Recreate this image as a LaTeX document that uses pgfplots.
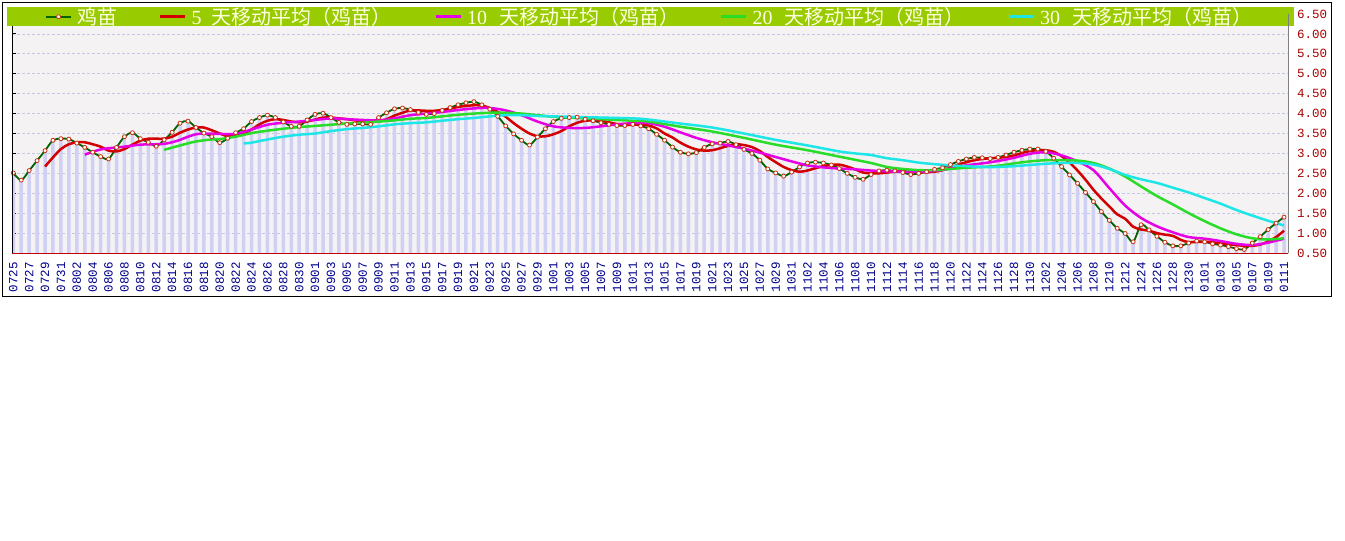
\documentclass[border=0pt]{standalone}
\usepackage{fontspec}
\setmainfont{Liberation Serif}
\newfontfamily\cjk{Noto Sans CJK SC}
\newfontfamily\monofont{Liberation Mono}
\usepackage{pgfplots}
\usepackage{pgfplotstable}
\pgfplotsset{compat=1.18}

\definecolor{paper}{RGB}{244,242,242}
\definecolor{legbar}{RGB}{153,204,0}
\definecolor{legtext}{RGB}{255,255,225}
\definecolor{barcol}{RGB}{208,208,245}
\definecolor{gridcol}{RGB}{198,198,230}
\definecolor{axred}{RGB}{190,0,0}
\definecolor{labred}{RGB}{170,0,0}
\definecolor{labblue}{RGB}{0,0,140}
\definecolor{mainline}{RGB}{0,100,0}
\definecolor{markedge}{RGB}{200,50,20}
\definecolor{ma5}{RGB}{210,0,0}
\definecolor{ma10}{RGB}{230,0,230}
\definecolor{ma20}{RGB}{40,220,40}
\definecolor{ma30}{RGB}{30,230,230}

\pgfplotsset{
  lineleg/.style={legend image code/.code={\draw[##1] (0bp,0bp) -- (25bp,0bp);}},
  markleg/.style={legend image code/.code={\draw[##1, mark indices={2}] plot coordinates {(0bp,0bp) (12.5bp,0bp) (25bp,0bp)};}},
}

% daily price, index 0 = 0725
\pgfplotstableread{
i v
0 2.51
1 2.33
2 2.57
3 2.82
4 3.07
5 3.33
6 3.37
7 3.36
8 3.26
9 3.15
10 3.03
11 2.92
12 2.86
13 3.15
14 3.42
15 3.52
16 3.37
17 3.28
18 3.18
19 3.34
20 3.53
21 3.76
22 3.81
23 3.65
24 3.51
25 3.42
26 3.27
27 3.38
28 3.52
29 3.62
30 3.80
31 3.90
32 3.96
33 3.90
34 3.79
35 3.68
36 3.68
37 3.84
38 3.98
39 4.01
40 3.90
41 3.78
42 3.73
43 3.74
44 3.74
45 3.73
46 3.90
47 4.02
48 4.12
49 4.14
50 4.10
51 4.03
52 3.98
53 4.00
54 4.08
55 4.15
56 4.22
57 4.27
58 4.30
59 4.22
60 4.11
61 3.93
62 3.69
63 3.49
64 3.33
65 3.21
66 3.41
67 3.62
68 3.80
69 3.88
70 3.90
71 3.91
72 3.86
73 3.82
74 3.77
75 3.73
76 3.70
77 3.70
78 3.73
79 3.69
80 3.62
81 3.48
82 3.33
83 3.16
84 3.03
85 2.99
86 3.02
87 3.15
88 3.24
89 3.26
90 3.30
91 3.22
92 3.10
93 3.00
94 2.83
95 2.61
96 2.51
97 2.43
98 2.53
99 2.66
100 2.76
101 2.78
102 2.76
103 2.71
104 2.62
105 2.50
106 2.40
107 2.35
108 2.47
109 2.56
110 2.58
111 2.56
112 2.52
113 2.47
114 2.50
115 2.54
116 2.60
117 2.64
118 2.72
119 2.80
120 2.86
121 2.90
122 2.89
123 2.87
124 2.90
125 2.96
126 3.03
127 3.08
128 3.11
129 3.11
130 3.05
131 2.88
132 2.67
133 2.46
134 2.25
135 2.02
136 1.79
137 1.54
138 1.32
139 1.12
140 0.99
141 0.78
142 1.21
143 1.08
144 0.92
145 0.77
146 0.68
147 0.68
148 0.75
149 0.80
150 0.78
151 0.73
152 0.70
153 0.66
154 0.61
155 0.59
156 0.75
157 0.91
158 1.09
159 1.25
160 1.40
}\price

\pgfplotstableread{
i v
4 2.67
5 2.90
6 3.11
7 3.23
8 3.28
9 3.28
10 3.23
11 3.17
12 3.07
13 3.05
14 3.11
15 3.22
16 3.32
17 3.37
18 3.37
19 3.37
20 3.42
21 3.52
22 3.60
23 3.65
24 3.65
25 3.58
26 3.50
27 3.43
28 3.43
29 3.50
30 3.60
31 3.73
32 3.82
33 3.86
34 3.84
35 3.80
36 3.78
37 3.80
38 3.85
39 3.90
40 3.90
41 3.88
42 3.86
43 3.83
44 3.81
45 3.80
46 3.80
47 3.86
48 3.95
49 4.02
50 4.08
51 4.08
52 4.07
53 4.07
54 4.09
55 4.12
56 4.17
57 4.19
58 4.21
59 4.20
60 4.14
61 4.04
62 3.92
63 3.76
64 3.62
65 3.50
66 3.43
67 3.43
68 3.48
69 3.56
70 3.68
71 3.77
72 3.82
73 3.83
74 3.82
75 3.78
76 3.74
77 3.72
78 3.72
79 3.72
80 3.70
81 3.63
82 3.50
83 3.40
84 3.27
85 3.17
86 3.10
87 3.07
88 3.08
89 3.13
90 3.19
91 3.23
92 3.21
93 3.16
94 3.06
95 2.91
96 2.78
97 2.66
98 2.58
99 2.54
100 2.57
101 2.63
102 2.68
103 2.71
104 2.72
105 2.67
106 2.60
107 2.52
108 2.50
109 2.50
110 2.52
111 2.54
112 2.55
113 2.54
114 2.53
115 2.53
116 2.54
117 2.58
118 2.64
119 2.72
120 2.78
121 2.83
122 2.86
123 2.88
124 2.89
125 2.91
126 2.95
127 3.01
128 3.06
129 3.08
130 3.08
131 3.04
132 2.93
133 2.77
134 2.57
135 2.34
136 2.09
137 1.87
138 1.67
139 1.47
140 1.36
141 1.16
142 1.09
143 1.06
144 1.00
145 0.96
146 0.93
147 0.83
148 0.77
149 0.78
150 0.78
151 0.77
152 0.74
153 0.72
154 0.70
155 0.68
156 0.68
157 0.71
158 0.79
159 0.90
160 1.06
}\maA

\pgfplotstableread{
i v
9 2.97
10 3.04
11 3.10
12 3.13
14 3.17
16 3.22
18 3.23
19 3.24
20 3.28
21 3.34
22 3.42
23 3.48
24 3.50
26 3.49
28 3.49
30 3.60
32 3.72
34 3.77
36 3.80
38 3.84
40 3.88
42 3.86
44 3.84
46 3.83
48 3.88
50 3.96
52 4.00
54 4.04
56 4.09
58 4.13
60 4.14
62 4.08
64 3.96
66 3.80
68 3.68
70 3.64
72 3.64
74 3.68
76 3.73
78 3.76
80 3.76
82 3.67
84 3.53
86 3.39
88 3.28
90 3.20
92 3.12
94 3.02
96 2.91
98 2.80
100 2.70
102 2.65
104 2.62
106 2.60
108 2.57
110 2.55
112 2.54
114 2.54
116 2.56
118 2.62
120 2.70
122 2.75
124 2.81
126 2.89
128 2.99
130 3.03
132 2.95
134 2.80
136 2.58
138 2.13
140 1.69
142 1.38
144 1.17
146 1.02
148 0.90
150 0.86
152 0.80
154 0.73
156 0.70
158 0.76
160 0.86
}\maB

\pgfplotstableread{
i v
19 3.09
21 3.20
23 3.30
25 3.35
26 3.36
28 3.42
30 3.51
32 3.57
34 3.62
36 3.66
38 3.69
40 3.72
42 3.75
44 3.77
46 3.80
48 3.83
50 3.87
52 3.89
54 3.93
56 3.97
58 4.00
60 4.02
62 4.02
64 4.00
66 3.96
68 3.92
70 3.90
72 3.88
74 3.86
76 3.84
78 3.82
80 3.80
84 3.67
88 3.55
92 3.39
96 3.22
100 3.08
104 2.92
106 2.84
108 2.76
110 2.66
112 2.61
114 2.58
116 2.58
118 2.61
120 2.64
122 2.66
124 2.69
126 2.75
128 2.80
130 2.83
132 2.83
134 2.82
136 2.76
138 2.62
140 2.42
142 2.17
144 1.93
146 1.72
148 1.50
150 1.30
152 1.12
154 0.97
156 0.87
158 0.84
160 0.87
}\maC

\pgfplotstableread{
i v
29 3.25
30 3.27
32 3.35
34 3.42
36 3.47
38 3.50
40 3.56
42 3.61
44 3.64
46 3.68
48 3.73
50 3.76
52 3.78
54 3.82
56 3.86
58 3.89
60 3.93
62 3.96
64 3.96
66 3.94
70 3.92
74 3.90
78 3.88
80 3.85
84 3.75
88 3.65
92 3.50
96 3.34
100 3.20
104 3.05
106 3.00
108 2.96
110 2.88
112 2.83
114 2.77
116 2.73
118 2.70
120 2.68
122 2.66
124 2.66
126 2.68
128 2.71
130 2.74
132 2.76
134 2.76
136 2.72
138 2.61
140 2.46
142 2.35
144 2.26
146 2.14
148 2.02
150 1.88
152 1.74
154 1.58
156 1.44
158 1.31
160 1.19
}\maD

\begin{document}
\begin{tikzpicture}
\path[use as bounding box, fill=white] (0,0) rectangle (1345bp,-541bp);
\begin{axis}[
  at={(12bp,-253bp)}, anchor=south west,
  scale only axis, width=1276bp, height=239bp,
  xmin=-0.16, xmax=160.5, ymin=0.5, ymax=6.5,
  axis line style={draw=none},
  axis background/.style={fill=paper},
  xtick={0,2,...,160},
  xticklabels={0725,0727,0729,0731,0802,0804,0806,0808,0810,0812,0814,0816,0818,0820,0822,0824,0826,0828,0830,0901,0903,0905,0907,0909,0911,0913,0915,0917,0919,0921,0923,0925,0927,0929,1001,1003,1005,1007,1009,1011,1013,1015,1017,1019,1021,1023,1025,1027,1029,1031,1102,1104,1106,1108,1110,1112,1114,1116,1118,1120,1122,1124,1126,1128,1130,1202,1204,1206,1208,1210,1212,1224,1226,1228,1230,0101,0103,0105,0107,0109,0111},
  minor x tick num=1,
  ytick={0.5,1,1.5,2,2.5,3,3.5,4,4.5,5,5.5,6,6.5},
  yticklabels={0.50,1.00,1.50,2.00,2.50,3.00,3.50,4.00,4.50,5.00,5.50,6.00,6.50},
  xtick pos=left, ytick pos=left,
  yticklabel pos=right,
  tick align=inside,
  major tick length=4bp, minor tick length=4bp,
  major x tick style={draw=axred, line width=1bp},
  minor x tick style={draw=axred, line width=1bp},
  major y tick style={draw=black, line width=1bp},
  xticklabel style={yshift=-9bp, rotate=90, anchor=east, inner sep=0pt,
    text=labblue, font=\monofont\fontsize{12.5bp}{12.5bp}\selectfont},
  yticklabel style={anchor=west, inner sep=0pt, xshift=9bp,
    text=labred, font=\monofont\fontsize{12.5bp}{12.5bp}\selectfont},
  ymajorgrids,
  major grid style={draw=gridcol, dash pattern=on 3bp off 2bp, line width=0.8bp},
  legend columns=5,
  legend style={at={(-0.0039,1.0293)}, anchor=north west,
    fill=legbar, draw=none, inner xsep=38bp, inner ysep=0pt,
    nodes={inner sep=0pt, text height=17bp, text depth=2bp, text=legtext,
      font=\fontsize{20bp}{20bp}\selectfont},
    cells={anchor=west}},
  lineleg,
]
\addplot[ybar, bar width=3.5bp, fill=barcol, draw=none, forget plot]
  table[x=i, y=v]{\price};
\addplot[mainline, line width=1.8bp, smooth, mark=*, mark size=2bp,
  mark options={fill=white, draw=markedge, line width=0.8bp}, markleg]
  table[x=i, y=v]{\price};
\addlegendentry{\makebox[87bp][l]{\hspace{5bp}\cjk 鸡苗}}
\addplot[ma5, line width=2.5bp, smooth, mark=none] table[x=i, y=v]{\maA};
\addlegendentry{\makebox[248bp][l]{\hspace{5bp}\makebox[20bp][l]{5}\cjk 天移动平均（鸡苗）}}
\addplot[ma10, line width=2.5bp, smooth, mark=none] table[x=i, y=v]{\maB};
\addlegendentry{\makebox[258bp][l]{\hspace{5bp}\makebox[32bp][l]{10}\cjk 天移动平均（鸡苗）}}
\addplot[ma20, line width=2.5bp, smooth, mark=none] table[x=i, y=v]{\maC};
\addlegendentry{\makebox[260bp][l]{\hspace{5bp}\makebox[32bp][l]{20}\cjk 天移动平均（鸡苗）}}
\addplot[ma30, line width=2.5bp, smooth, mark=none] table[x=i, y=v]{\maD};
\addlegendentry{\makebox[221bp][l]{\hspace{5bp}\makebox[32bp][l]{30}\cjk 天移动平均（鸡苗）}}
\end{axis}
% axis lines
\draw[axred, line width=1bp] (12bp,-253bp) -- (1288bp,-253bp);
\draw[black, line width=1bp] (12bp,-253bp) -- (12bp,-26bp);
\draw[gray, line width=1bp] (1288bp,-253bp) -- (1288bp,-14bp);
% outer frame
\draw[black, line width=1bp] (2.5bp,-2.5bp) rectangle (1331.5bp,-296.5bp);
\end{tikzpicture}
\end{document}
